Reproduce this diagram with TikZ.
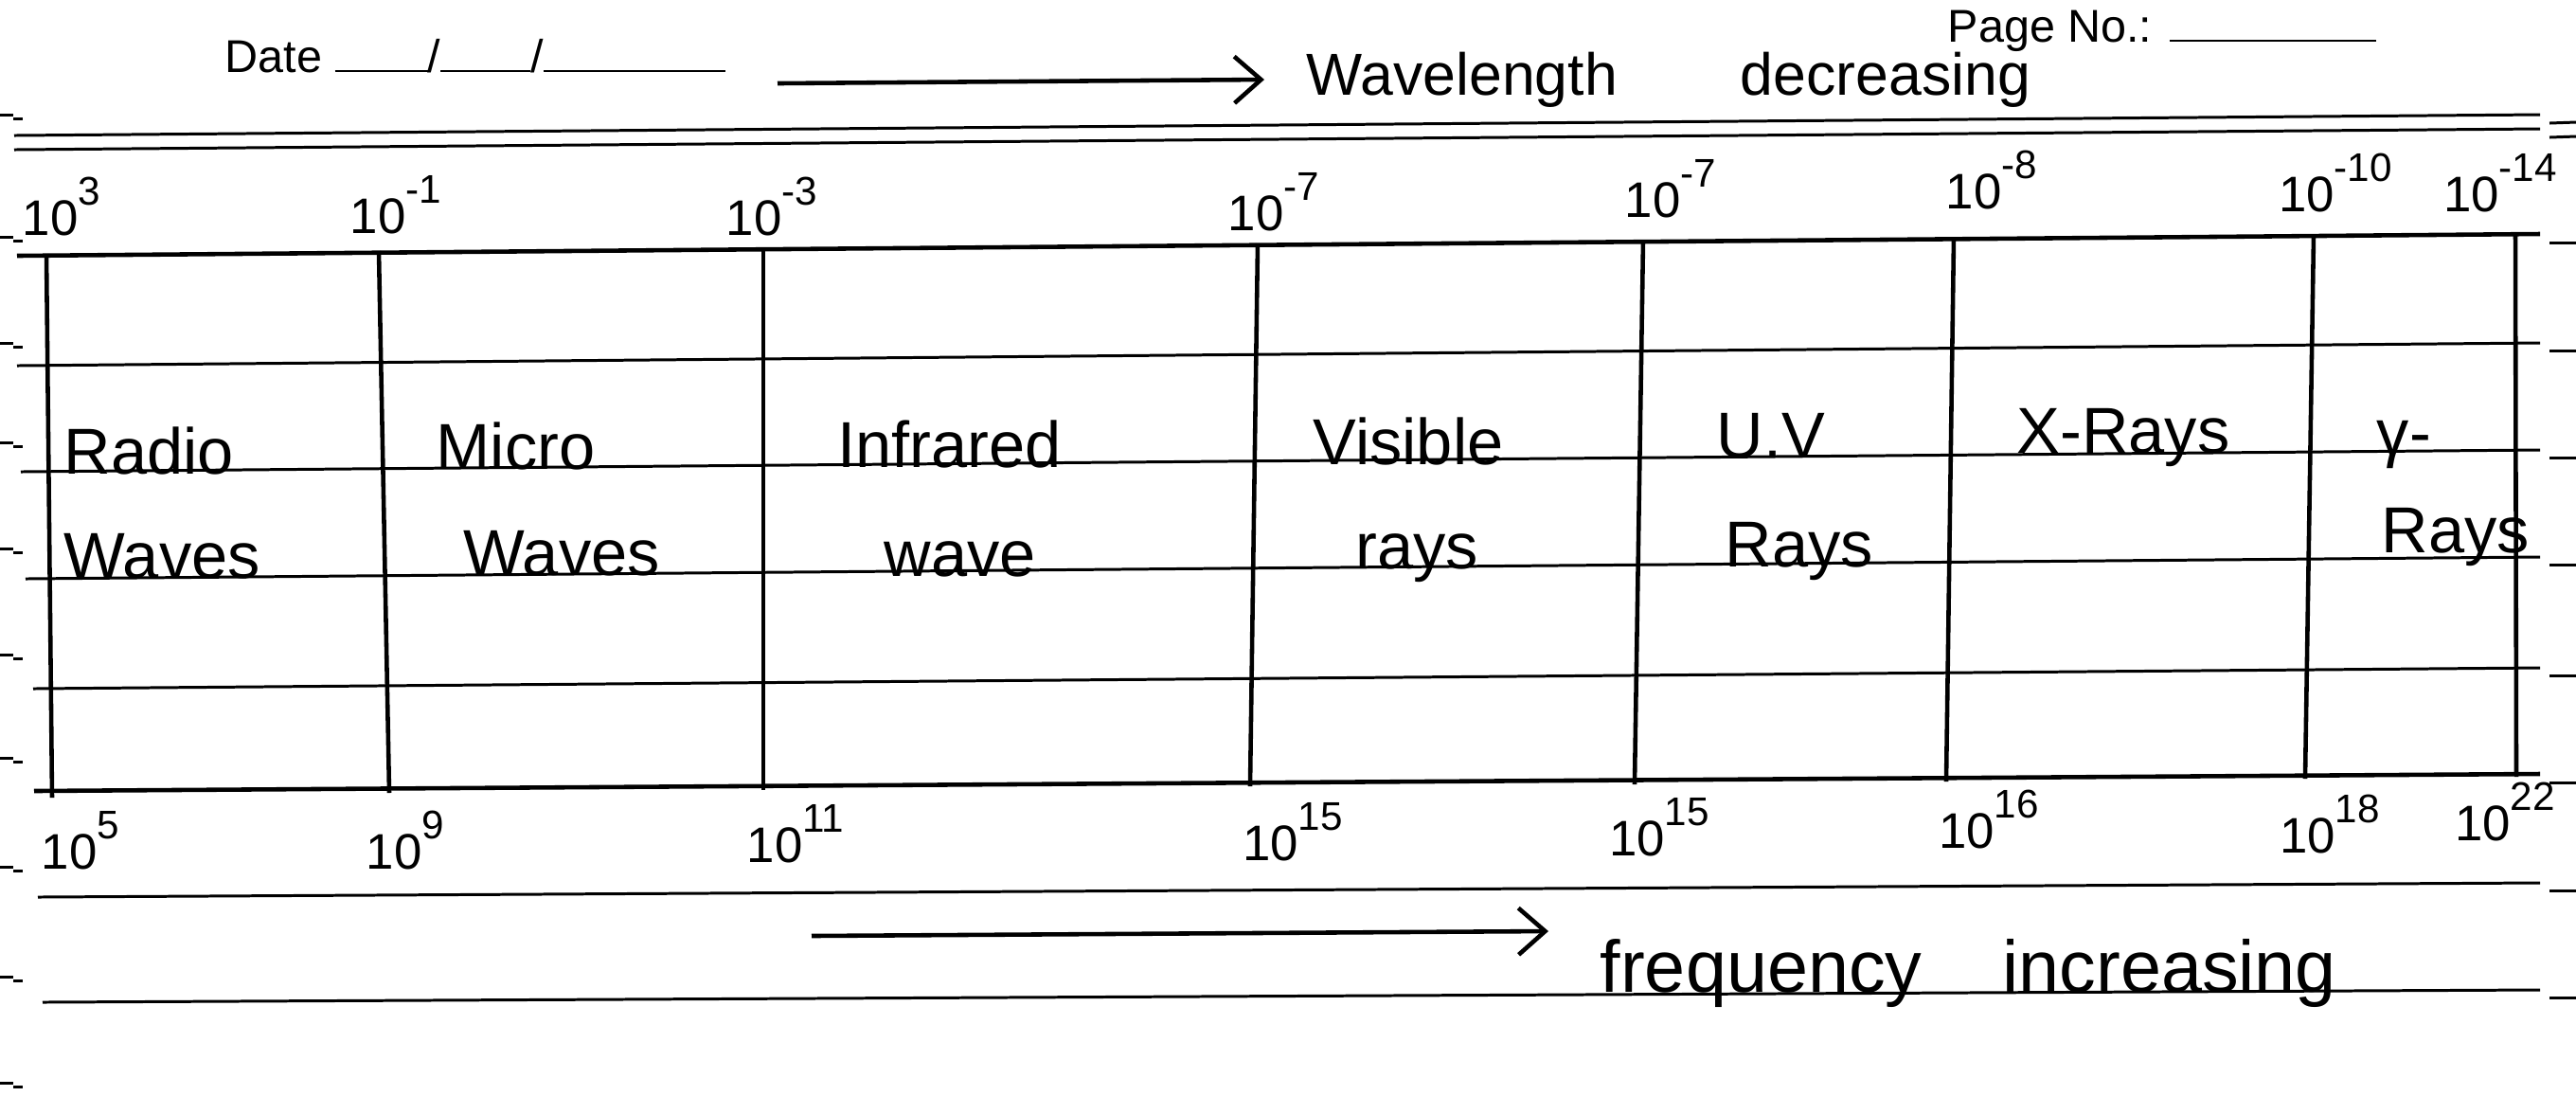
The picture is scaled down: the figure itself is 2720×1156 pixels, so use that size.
\documentclass[tikz,border=0pt]{standalone}
\usepackage{fontspec}
\setmainfont{Liberation Sans}
\usetikzlibrary{arrows.meta}

\tikzset{
  ruled/.style={line width=0.85pt},
  pen/.style={line width=1.3pt},
  hand/.style={inner sep=0pt, font=\fontsize{19.5}{22}\selectfont},
  expo/.style={inner sep=0pt, font=\fontsize{15}{17}\selectfont},
  headtxt/.style={inner sep=0pt, font=\fontsize{13.8}{16}\selectfont},
  penarrow/.style={line width=1.3pt, -{Straight Barb[length=8pt, width=14pt]}},
}
\newcommand{\tenpow}[1]{10\raisebox{0.6em}{\fontsize{12}{12}\selectfont #1}}

\begin{document}
\begin{tikzpicture}[x=0.01cm, y=-0.01cm]
    \useasboundingbox (0,0) rectangle (2720,1156);

    % --- Page header ---
    \node[headtxt, anchor=base west] (date) at (237,76)
      {Date \rule{0.98cm}{0.6pt}/\rule{0.95cm}{0.6pt}/\rule{1.92cm}{0.6pt}};
    \node[headtxt, anchor=base west] (pageno) at (2056,44) {Page No.: \rule{2.18cm}{0.6pt}};

    % --- Ruled lines of the page ---
    \draw[ruled] (15,143) -- (2682,121);
    \draw[ruled] (15,158) -- (2682,136);
    \draw[ruled] (2692,130) -- (2720,129);
    \draw[ruled] (2692,145) -- (2720,144);
    \foreach \xl/\yl/\yr in {18/386/362, 22/498/475, 27/611/588, 35/727/705, 40/947/932, 45/1058/1045}{
      \draw[ruled] (\xl,\yl) -- (2682,\yr);
      \draw[ruled] (2692,\yr+8) -- (2720,\yr+8);
    }
    % marks of the page underneath
    \foreach \y in {121,250,362,467,579,691,800,915,1031,1143}
      \draw[ruled] (0,\y) -- (14,\y) (14,\y+4) -- (24,\y+4);

    % --- Table : top and bottom in pen ---
    \draw[pen] (18,270) -- (2682,247);
    \draw[pen] (36,835) -- (2682,817);
    \draw[ruled] (2692,256) -- (2720,256);
    \draw[ruled] (2692,826) -- (2720,826);

    % columns
    \foreach \xt/\yt/\xb/\yb in {49/268/55/842, 400/265/411/837, 806/262/806/834,
        1328/257/1320/830, 1735/254/1726/828, 2063/251/2055/825, 2443/248/2434/822, 2656/246/2657/820}
      \draw[pen] (\xt,\yt) -- (\xb,\yb);

    % --- Wavelength (top) ---
    \node[expo] (wl1) at (65,218) {\tenpow{3}};
    \node[expo] (wl2) at (418,216) {\tenpow{-1}};
    \node[expo] (wl3) at (815,218) {\tenpow{-3}};
    \node[expo] (wl4) at (1345,213) {\tenpow{-7}};
    \node[expo] (wl5) at (1764,199) {\tenpow{-7}};
    \node[expo] (wl6) at (2103,190) {\tenpow{-8}};
    \node[expo] (wl7) at (2466,193) {\tenpow{-10}};
    \node[expo] (wl8) at (2640,193) {\tenpow{-14}};

    % --- Frequency (bottom) ---
    \node[expo] (fq1) at (85,887) {\tenpow{5}};
    \node[expo] (fq2) at (428,887) {\tenpow{9}};
    \node[expo] (fq3) at (840,880) {\tenpow{11}};
    \node[expo] (fq4) at (1365,878) {\tenpow{15}};
    \node[expo] (fq5) at (1752,873) {\tenpow{15}};
    \node[expo] (fq6) at (2100,865) {\tenpow{16}};
    \node[expo] (fq7) at (2460,870) {\tenpow{18}};
    \node[expo] (fq8) at (2645,857) {\tenpow{22}};

    % --- Bands ---
    \node[hand, anchor=base west] (radioa) at (67,500) {Radio};
    \node[hand, anchor=base west] (radiob) at (67,610) {Waves};
    \node[hand, anchor=base west] (microa) at (460,495) {Micro};
    \node[hand, anchor=base west] (microb) at (489,607) {Waves};
    \node[hand, anchor=base west] (infraa) at (884,493) {Infrared};
    \node[hand, anchor=base west] (infrab) at (933,608) {wave};
    \node[hand, anchor=base west] (visa) at (1386,490) {Visible};
    \node[hand, anchor=base west] (visb) at (1431,600) {rays};
    \node[hand, anchor=base west] (uva) at (1812,483) {U.V};
    \node[hand, anchor=base west] (uvb) at (1821,598) {Rays};
    \node[hand, anchor=base west] (xray) at (2129,478) {X-Rays};
    \node[hand, anchor=base west] (gama) at (2509,480) {γ-};
    \node[hand, anchor=base west] (gamb) at (2514,583) {Rays};

    % --- Arrows ---
    \coordinate (wtail) at (821,88);
    \coordinate (wtip) at (1335,84);
    \draw[penarrow] (wtail) -- (wtip);
    \node[hand, font=\fontsize{17.8}{20}\selectfont, anchor=base west] (wdec) at (1379,100)
      {Wavelength\hspace{1.3cm}decreasing};

    \coordinate (ftail) at (857,988);
    \coordinate (ftip) at (1635,983);
    \draw[penarrow] (ftail) -- (ftip);
    \node[hand, font=\fontsize{22}{24}\selectfont, anchor=base west] (finc) at (1689,1047)
      {frequency\hspace{0.85cm}increasing};

\end{tikzpicture}
\end{document}
